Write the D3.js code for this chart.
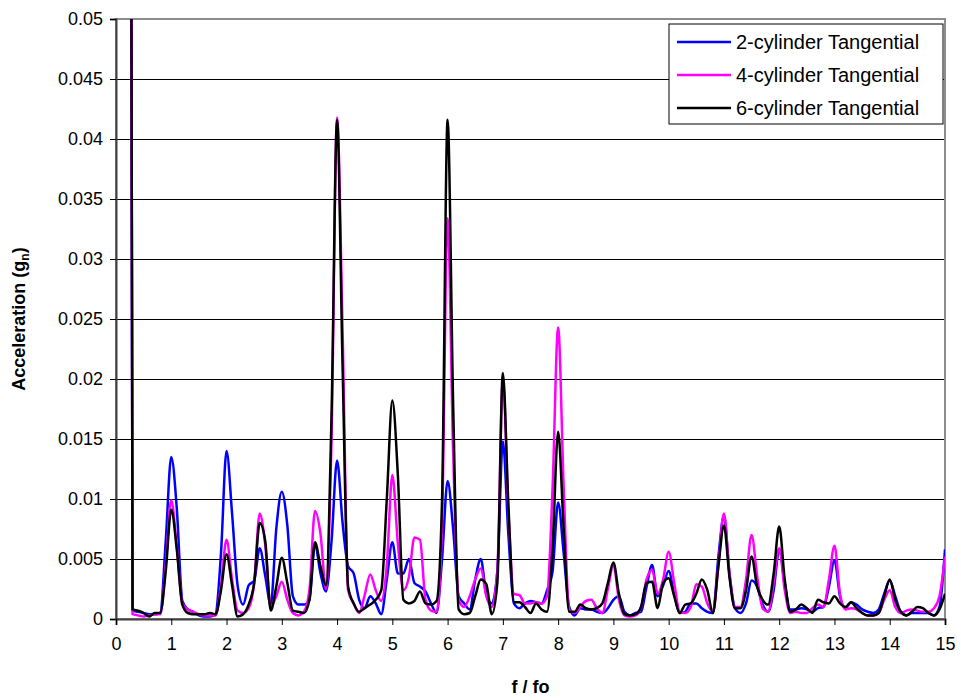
<!DOCTYPE html>
<html>
<head>
<meta charset="utf-8">
<script src="https://cdn.jsdelivr.net/npm/d3@7/dist/d3.min.js"></script>
<style>
  body { margin: 0; background: #ffffff; }
  text { font-family: "Liberation Sans", Arial, sans-serif; }
</style>
</head>
<body>
<svg id="chart" width="961" height="700"></svg>
<script>
// Frequency ratio f / fo of each spectrum sample
const freqRatio = [0.25,
  0.3, 0.4, 0.5, 0.6, 0.7, 0.8, 0.9, 1.0, 1.1, 1.2, 1.3, 1.4, 1.5, 1.6, 1.7, 1.8, 1.9, 2.0,
  2.1, 2.2, 2.3, 2.4, 2.5, 2.6, 2.7, 2.8, 2.9, 3.0, 3.1, 3.2, 3.3, 3.4, 3.5, 3.6, 3.7, 3.8, 3.9, 4.0,
  4.1, 4.2, 4.3, 4.4, 4.5, 4.6, 4.7, 4.8, 4.9, 5.0, 5.1, 5.2, 5.3, 5.4, 5.5, 5.6, 5.7, 5.8, 5.9, 6.0,
  6.1, 6.2, 6.3, 6.4, 6.5, 6.6, 6.7, 6.8, 6.9, 7.0, 7.1, 7.2, 7.3, 7.4, 7.5, 7.6, 7.7, 7.8, 7.9, 8.0,
  8.1, 8.2, 8.3, 8.4, 8.5, 8.6, 8.7, 8.8, 8.9, 9.0, 9.1, 9.2, 9.3, 9.4, 9.5, 9.6, 9.7, 9.8, 9.9, 10.0,
  10.1, 10.2, 10.3, 10.4, 10.5, 10.6, 10.7, 10.8, 10.9, 11.0, 11.1, 11.2, 11.3, 11.4, 11.5, 11.6, 11.7, 11.8, 11.9, 12.0,
  12.1, 12.2, 12.3, 12.4, 12.5, 12.6, 12.7, 12.8, 12.9, 13.0, 13.1, 13.2, 13.3, 13.4, 13.5, 13.6, 13.7, 13.8, 13.9, 14.0,
  14.1, 14.2, 14.3, 14.4, 14.5, 14.6, 14.7, 14.8, 14.9, 15.0];

// Acceleration (g_n), 2-cylinder tangential
const twoCylinder = [0.12,
  0.0007, 0.0006, 0.0005, 0.0004, 0.0004, 0.0005, 0.0065, 0.0135, 0.0092, 0.0015, 0.0008, 0.0006, 0.0003, 0.0002, 0.0002, 0.0004, 0.0055, 0.0140,
  0.0088, 0.0028, 0.0012, 0.0028, 0.0032, 0.0059, 0.0036, 0.0012, 0.0075, 0.0106, 0.0078, 0.0019, 0.0012, 0.0012, 0.0016, 0.0062, 0.0038, 0.0023, 0.0065, 0.0132,
  0.0080, 0.0044, 0.0038, 0.0016, 0.0009, 0.0019, 0.0013, 0.0004, 0.0033, 0.0064, 0.0038, 0.0038, 0.0050, 0.0030, 0.0027, 0.0023, 0.0013, 0.0005, 0.0050, 0.0115,
  0.0075, 0.0019, 0.0013, 0.0008, 0.0033, 0.0050, 0.0021, 0.0013, 0.0040, 0.0148, 0.0070, 0.0013, 0.0009, 0.0013, 0.0015, 0.0014, 0.0013, 0.0024, 0.0040, 0.0097,
  0.0055, 0.0010, 0.0003, 0.0009, 0.0008, 0.0008, 0.0006, 0.0005, 0.0009, 0.0016, 0.0019, 0.0006, 0.0003, 0.0005, 0.0006, 0.0027, 0.0045, 0.0019, 0.0028, 0.0040,
  0.0021, 0.0005, 0.0006, 0.0013, 0.0013, 0.0009, 0.0006, 0.0005, 0.0052, 0.0086, 0.0038, 0.0009, 0.0005, 0.0013, 0.0032, 0.0027, 0.0012, 0.0006, 0.0024, 0.0058,
  0.0030, 0.0008, 0.0008, 0.0009, 0.0008, 0.0006, 0.0009, 0.0010, 0.0027, 0.0049, 0.0019, 0.0009, 0.0014, 0.0012, 0.0008, 0.0006, 0.0005, 0.0008, 0.0021, 0.0032,
  0.0019, 0.0006, 0.0003, 0.0005, 0.0005, 0.0005, 0.0005, 0.0003, 0.0010, 0.0058];

// Acceleration (g_n), 4-cylinder tangential
const fourCylinder = [0.12,
  0.0004, 0.0003, 0.0002, 0.0003, 0.0004, 0.0004, 0.0045, 0.0099, 0.0060, 0.0013, 0.0008, 0.0006, 0.0004, 0.0003, 0.0003, 0.0003, 0.0028, 0.0066,
  0.0033, 0.0007, 0.0005, 0.0009, 0.0030, 0.0088, 0.0062, 0.0010, 0.0019, 0.0031, 0.0016, 0.0005, 0.0003, 0.0006, 0.0024, 0.0090, 0.0071, 0.0025, 0.0150, 0.0418,
  0.0240, 0.0024, 0.0013, 0.0005, 0.0020, 0.0037, 0.0024, 0.0015, 0.0045, 0.0120, 0.0063, 0.0024, 0.0035, 0.0068, 0.0066, 0.0016, 0.0007, 0.0006, 0.0080, 0.0334,
  0.0140, 0.0016, 0.0010, 0.0019, 0.0033, 0.0042, 0.0019, 0.0010, 0.0040, 0.0200, 0.0090, 0.0021, 0.0020, 0.0013, 0.0013, 0.0014, 0.0013, 0.0019, 0.0110, 0.0243,
  0.0110, 0.0008, 0.0005, 0.0010, 0.0015, 0.0016, 0.0009, 0.0005, 0.0025, 0.0045, 0.0016, 0.0003, 0.0002, 0.0003, 0.0010, 0.0033, 0.0041, 0.0021, 0.0033, 0.0056,
  0.0030, 0.0006, 0.0005, 0.0010, 0.0029, 0.0027, 0.0013, 0.0006, 0.0045, 0.0088, 0.0038, 0.0010, 0.0010, 0.0033, 0.0070, 0.0036, 0.0009, 0.0006, 0.0030, 0.0059,
  0.0024, 0.0005, 0.0006, 0.0005, 0.0005, 0.0009, 0.0012, 0.0010, 0.0033, 0.0061, 0.0021, 0.0008, 0.0009, 0.0008, 0.0005, 0.0003, 0.0003, 0.0005, 0.0016, 0.0024,
  0.0010, 0.0005, 0.0007, 0.0008, 0.0007, 0.0006, 0.0006, 0.0009, 0.0019, 0.0052];

// Acceleration (g_n), 6-cylinder tangential
const sixCylinder = [0.12,
  0.0008, 0.0007, 0.0005, 0.0002, 0.0005, 0.0005, 0.0040, 0.0091, 0.0058, 0.0012, 0.0005, 0.0004, 0.0004, 0.0004, 0.0005, 0.0004, 0.0024, 0.0054,
  0.0028, 0.0002, 0.0004, 0.0012, 0.0030, 0.0080, 0.0065, 0.0007, 0.0027, 0.0051, 0.0030, 0.0007, 0.0006, 0.0005, 0.0016, 0.0064, 0.0044, 0.0028, 0.0170, 0.0416,
  0.0210, 0.0027, 0.0013, 0.0006, 0.0009, 0.0012, 0.0016, 0.0024, 0.0100, 0.0182, 0.0120, 0.0016, 0.0013, 0.0015, 0.0023, 0.0013, 0.0012, 0.0015, 0.0100, 0.0416,
  0.0180, 0.0008, 0.0004, 0.0005, 0.0019, 0.0033, 0.0029, 0.0004, 0.0030, 0.0205, 0.0095, 0.0014, 0.0014, 0.0010, 0.0005, 0.0013, 0.0008, 0.0006, 0.0060, 0.0156,
  0.0075, 0.0006, 0.0006, 0.0012, 0.0009, 0.0008, 0.0009, 0.0013, 0.0030, 0.0047, 0.0021, 0.0004, 0.0003, 0.0004, 0.0010, 0.0030, 0.0031, 0.0009, 0.0030, 0.0034,
  0.0019, 0.0005, 0.0012, 0.0013, 0.0021, 0.0033, 0.0024, 0.0005, 0.0044, 0.0078, 0.0035, 0.0009, 0.0009, 0.0024, 0.0052, 0.0027, 0.0016, 0.0012, 0.0038, 0.0077,
  0.0033, 0.0006, 0.0008, 0.0012, 0.0009, 0.0005, 0.0016, 0.0014, 0.0013, 0.0019, 0.0013, 0.0010, 0.0014, 0.0009, 0.0005, 0.0003, 0.0003, 0.0005, 0.0019, 0.0033,
  0.0016, 0.0006, 0.0003, 0.0006, 0.0010, 0.0009, 0.0005, 0.0003, 0.0008, 0.0021];

const seriesNames = ["2-cylinder Tangential", "4-cylinder Tangential", "6-cylinder Tangential"];
const seriesColors = ["#0000ff", "#ff00ff", "#000000"];

const xTickValues = [0, 1, 2, 3, 4, 5, 6, 7, 8, 9, 10, 11, 12, 13, 14, 15];
const yTickValues = [0, 0.005, 0.01, 0.015, 0.02, 0.025, 0.03, 0.035, 0.04, 0.045, 0.05];
const yTickLabels = ["0", "0.005", "0.01", "0.015", "0.02", "0.025", "0.03", "0.035", "0.04", "0.045", "0.05"];

const seriesValues = [twoCylinder, fourCylinder, sixCylinder];

const svg = d3.select("#chart");
const plot = { left: 116, right: 945, top: 19, bottom: 619 };

const x = d3.scaleLinear().domain([0, 15]).range([plot.left, plot.right]);
const y = d3.scaleLinear().domain([0, 0.05]).range([plot.bottom, plot.top]);

// plot background
svg.append("rect")
  .attr("x", plot.left).attr("y", plot.top)
  .attr("width", plot.right - plot.left).attr("height", plot.bottom - plot.top)
  .attr("fill", "#ffffff");

// horizontal gridlines
svg.append("g")
  .selectAll("line")
  .data(yTickValues.filter(v => v > 0 && v < 0.05))
  .join("line")
  .attr("x1", plot.left).attr("x2", plot.right)
  .attr("y1", d => Math.round(y(d)) + 0.5).attr("y2", d => Math.round(y(d)) + 0.5)
  .attr("stroke", "#000000").attr("stroke-width", 1);

// plot frame (top and right)
svg.append("rect")
  .attr("x", plot.left).attr("y", plot.top)
  .attr("width", plot.right - plot.left).attr("height", plot.bottom - plot.top)
  .attr("fill", "none").attr("stroke", "#8c8c8c").attr("stroke-width", 2);

// axes
const yAxis = d3.axisLeft(y)
  .tickValues(yTickValues)
  .tickFormat((d, i) => yTickLabels[i])
  .tickSize(6).tickPadding(7);
const gy = svg.append("g").attr("transform", `translate(${plot.left},0)`).call(yAxis);
gy.select(".domain").attr("stroke", "#404040").attr("stroke-width", 2);
gy.selectAll(".tick line").attr("stroke", "#000").attr("stroke-width", 1);
gy.selectAll(".tick text")
  .attr("font-family", "Liberation Sans, Arial, sans-serif")
  .attr("font-size", 18).attr("fill", "#000");

const xAxis = d3.axisBottom(x)
  .tickValues(xTickValues)
  .tickFormat(d3.format("d"))
  .tickSize(6).tickPadding(12);
const gx = svg.append("g").attr("transform", `translate(0,${plot.bottom})`).call(xAxis);
gx.select(".domain").attr("stroke", "#404040").attr("stroke-width", 2);
gx.selectAll(".tick line").attr("stroke", "#000").attr("stroke-width", 1);
gx.selectAll(".tick text")
  .attr("font-family", "Liberation Sans, Arial, sans-serif")
  .attr("font-size", 18).attr("fill", "#000");

// clip the spectrum traces to the plot area
svg.append("clipPath").attr("id", "plot-clip")
  .append("rect")
  .attr("x", plot.left).attr("y", plot.top)
  .attr("width", plot.right - plot.left).attr("height", plot.bottom - plot.top);

const line = d3.line()
  .x((d, i) => x(freqRatio[i]))
  .y(d => y(d))
  .curve(d3.curveMonotoneX);

svg.append("g").attr("clip-path", "url(#plot-clip)")
  .selectAll("path")
  .data(seriesValues)
  .join("path")
  .attr("d", d => line(d))
  .attr("fill", "none")
  .attr("stroke", (d, i) => seriesColors[i])
  .attr("stroke-width", 2.5)
  .attr("stroke-linejoin", "round");

// axis titles
svg.append("text")
  .attr("x", (plot.left + plot.right) / 2).attr("y", 693)
  .attr("text-anchor", "middle")
  .attr("font-size", 18).attr("font-weight", "bold")
  .text("f / fo");

const yTitle = svg.append("text")
  .attr("transform", `translate(25,${(plot.top + plot.bottom) / 2}) rotate(-90)`)
  .attr("text-anchor", "middle")
  .attr("font-size", 18).attr("font-weight", "bold");
yTitle.append("tspan").text("Acceleration (g");
yTitle.append("tspan").attr("font-size", 12).attr("dy", 4).text("n");
yTitle.append("tspan").attr("dy", -4).text(")");

// legend
const legend = svg.append("g");
legend.append("rect")
  .attr("x", 669).attr("y", 24).attr("width", 274).attr("height", 100)
  .attr("fill", "#ffffff").attr("stroke", "#000000").attr("stroke-width", 1);
const items = legend.selectAll("g.item")
  .data(seriesNames)
  .join("g").attr("class", "item")
  .attr("transform", (d, i) => `translate(0,${42 + i * 33})`);
items.append("line")
  .attr("x1", 677).attr("x2", 731).attr("y1", 0).attr("y2", 0)
  .attr("stroke", (d, i) => seriesColors[i]).attr("stroke-width", 2.5);
items.append("text")
  .attr("x", 736).attr("y", 0).attr("dy", "0.35em")
  .attr("font-size", 20).attr("fill", "#000")
  .text(d => d);
</script>
</body>
</html>
